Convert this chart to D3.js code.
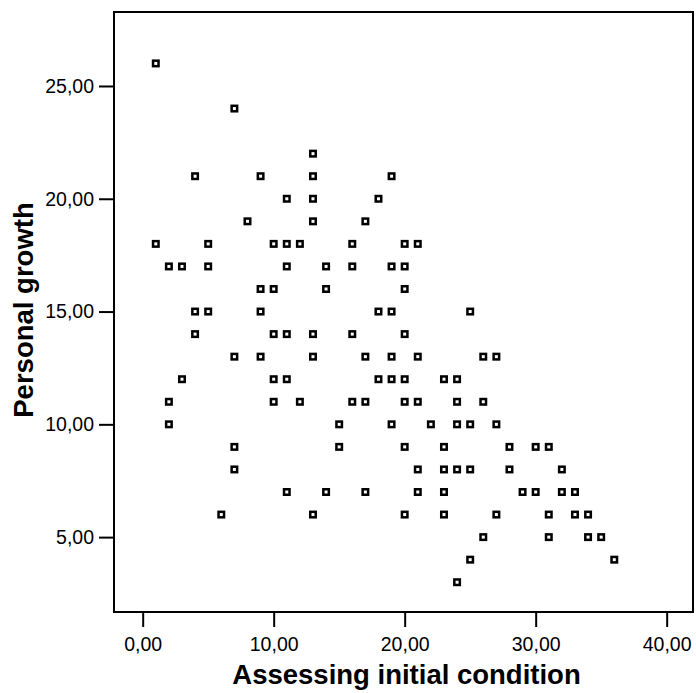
<!DOCTYPE html>
<html>
  <head>
    <meta charset="utf-8">
    <title>Personal growth vs assessing initial condition</title>
    <script src="https://d3js.org/d3.v7.min.js"></script>
    <style>
      body { margin: 0; background: #fff; }
      text { font-family: "Liberation Sans", Arial, sans-serif; }
    </style>
  </head>

  <body>

    <svg width="696" height="693"></svg>

    <script>

      // Assessing initial condition (x) and personal growth (y), one entry per case
      var assessing = [
        1, 1,
        2, 2, 2,
        3, 3,
        4, 4, 4,
        5, 5, 5,
        6,
        7, 7, 7, 7,
        8,
        9, 9, 9, 9,
        10, 10, 10, 10, 10,
        11, 11, 11, 11, 11, 11,
        12, 12,
        13, 13, 13, 13, 13, 13, 13,
        14, 14, 14,
        15, 15,
        16, 16, 16, 16,
        17, 17, 17, 17,
        18, 18, 18,
        19, 19, 19, 19, 19, 19,
        20, 20, 20, 20, 20, 20, 20, 20,
        21, 21, 21, 21, 21,
        22,
        23, 23, 23, 23, 23,
        24, 24, 24, 24, 24,
        25, 25, 25, 25,
        26, 26, 26,
        27, 27, 27,
        28, 28,
        29,
        30, 30,
        31, 31, 31,
        32, 32,
        33, 33,
        34, 34,
        35,
        36
      ];

      var growth = [
        26, 18,
        17, 11, 10,
        17, 12,
        21, 15, 14,
        18, 17, 15,
        6,
        24, 13, 9, 8,
        19,
        21, 16, 15, 13,
        18, 16, 14, 12, 11,
        20, 18, 17, 14, 12, 7,
        18, 11,
        22, 21, 20, 19, 14, 13, 6,
        17, 16, 7,
        10, 9,
        18, 17, 14, 11,
        19, 13, 11, 7,
        20, 15, 12,
        21, 17, 15, 13, 12, 10,
        18, 17, 16, 14, 12, 11, 9, 6,
        18, 13, 11, 8, 7,
        10,
        12, 9, 8, 7, 6,
        12, 11, 10, 8, 3,
        15, 10, 8, 4,
        13, 11, 5,
        13, 10, 6,
        9, 8,
        7,
        9, 7,
        9, 6, 5,
        8, 7,
        7, 6,
        6, 5,
        5,
        4
      ];

      var xTicks = [0, 10, 20, 30, 40];
      var yTicks = [5, 10, 15, 20, 25];

      var svg = d3.select("svg"),
          margin = {top: 12, right: 3, bottom: 81, left: 114},
          width = +svg.attr("width") - margin.left - margin.right,
          height = +svg.attr("height") - margin.top - margin.bottom;

      var points = assessing.map(function(d, i) { return {x: d, y: growth[i]}; });

      var x = d3.scaleLinear().domain([-2.19, 42.01]).range([0, width]),
          y = d3.scaleLinear().domain([1.68, 28.28]).range([height, 0]);

      var fmt = function(d) { return d3.format(".2f")(d).replace(".", ","); };

      var g = svg.append("g")
          .attr("transform", "translate(" + margin.left + "," + margin.top + ")");

      var xAxis = g.append("g")
          .attr("transform", "translate(0," + height + ")")
          .call(d3.axisBottom(x).tickValues(xTicks).tickFormat(fmt)
                .tickSize(15).tickSizeOuter(0).tickPadding(10));

      var yAxis = g.append("g")
          .call(d3.axisLeft(y).tickValues(yTicks).tickFormat(fmt)
                .tickSize(15).tickSizeOuter(0).tickPadding(5));

      [xAxis, yAxis].forEach(function(a) {
        a.select(".domain").remove();
        a.selectAll(".tick line").attr("stroke", "#000").attr("stroke-width", 2);
        a.selectAll(".tick text")
            .attr("fill", "#000")
            .style("font-size", "19.5px")
            .style("font-family", "'Liberation Sans', Arial, sans-serif");
      });

      g.append("rect")
          .attr("x", 0)
          .attr("y", 0)
          .attr("width", width)
          .attr("height", height)
          .attr("fill", "none")
          .attr("stroke", "#000")
          .attr("stroke-width", 2);

      var s = 5.5;
      g.selectAll(".dot")
          .data(points)
        .enter().append("rect")
          .attr("class", "dot")
          .attr("x", function(d) { return x(d.x) - s / 2; })
          .attr("y", function(d) { return y(d.y) - s / 2; })
          .attr("width", s)
          .attr("height", s)
          .attr("fill", "#fff")
          .attr("stroke", "#000")
          .attr("stroke-width", 2.5);

      g.append("text")
          .attr("x", width / 2 + 3)
          .attr("y", height + 72)
          .attr("text-anchor", "middle")
          .style("font-size", "27.5px")
          .style("font-weight", "bold")
          .text("Assessing initial condition");

      g.append("text")
          .attr("transform", "translate(" + (33 - margin.left) + "," + (310 - margin.top) + ") rotate(-90)")
          .attr("text-anchor", "middle")
          .style("font-size", "27.5px")
          .style("font-weight", "bold")
          .text("Personal growth");

    </script>
  </body>
</html>
